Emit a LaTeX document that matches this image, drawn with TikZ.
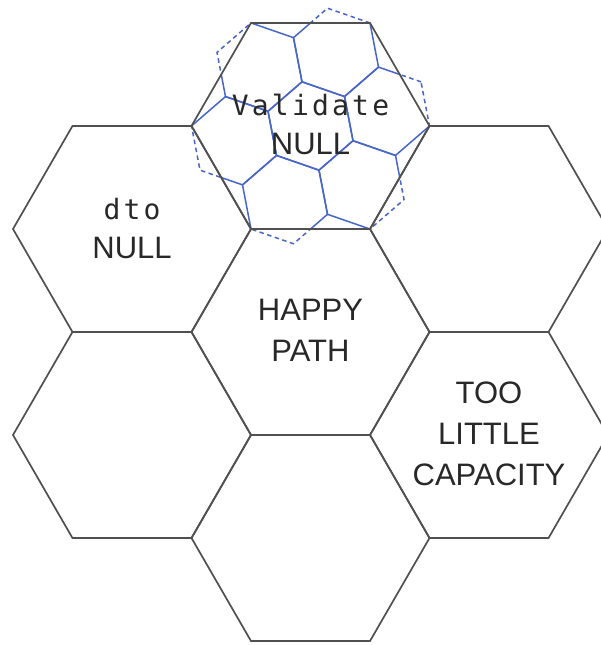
\documentclass[tikz,border=0pt]{standalone}
\usepackage{fontspec}
\setmainfont{Liberation Sans}
\newfontfamily\monof{DejaVu Sans Mono}
\newcommand\lk{\kern3.2pt}
\definecolor{hexgray}{RGB}{80,80,80}
\definecolor{txtgray}{RGB}{40,40,40}
\definecolor{flowblue}{RGB}{72,102,200}
\def\hr{119}
\def\fr{44.98}
\newcommand\bighex[2]{\path[#1, shift={(#2)}] (0:\hr) -- (60:\hr) -- (120:\hr) -- (180:\hr) -- (240:\hr) -- (300:\hr) -- cycle;}
\newcommand\smallcell[2]{\path[#1, shift={(#2)}] (40.893:\fr) -- (100.893:\fr) -- (160.893:\fr) -- (220.893:\fr) -- (280.893:\fr) -- (340.893:\fr) -- cycle;}
\tikzset{
  hexline/.style={draw=hexgray, line width=1.7pt, line join=miter},
  flowsolid/.style={draw=flowblue, line width=1.5pt},
  flowdash/.style={draw=flowblue, line width=1.5pt, dash pattern=on 4.5pt off 3.5pt},
  lbl/.style={text=txtgray, align=center, inner sep=0pt, font=\fontsize{31}{41}\selectfont},
  lblmix/.style={lbl, font=\fontsize{31}{39.5}\selectfont},
}
\begin{document}
\begin{tikzpicture}[x=1pt,y=1pt]
\clip (0,0) rectangle (601,645);
\fill[white] (0,0) rectangle (601,645);
\coordinate (v) at (310.5,519);
\coordinate (dto) at (132,416);
\coordinate (ru) at (489,416);
\coordinate (hp) at (310.5,313);
\coordinate (ll) at (132,210);
\coordinate (tl) at (489,210);
\coordinate (bt) at (310.5,107);
% dashed outer parts of the blue cells
\begin{scope}[shift={(v)}]
  \foreach \k in {0,...,5} {\smallcell{flowdash}{{70.893+60*\k}:77.905}}
\end{scope}
\bighex{fill=white}{v}
% solid blue cells inside the top hexagon
\begin{scope}
  \bighex{clip}{v}
  \begin{scope}[shift={(v)}]
    \smallcell{flowsolid}{0,0}
    \foreach \k in {0,...,5} {\smallcell{flowsolid}{{70.893+60*\k}:77.905}}
  \end{scope}
\end{scope}
% big hexagons
\bighex{hexline}{v}
\bighex{hexline}{dto}
\bighex{hexline}{ru}
\bighex{hexline}{hp}
\bighex{hexline}{ll}
\bighex{hexline}{tl}
\bighex{hexline}{bt}
% labels
\node[lblmix] (vtxt) at ([yshift=1.5pt]v) {{\monof\fontsize{28}{39.5}\selectfont V\lk a\lk l\lk i\lk d\lk a\lk t\lk e}\\NULL};
\node[lblmix] (dtotxt) at ([yshift=0.5pt]dto) {{\monof\fontsize{28}{39.5}\selectfont d\lk t\lk o}\\NULL};
\node[lbl] (hptxt) at ([yshift=1.5pt]hp) {HAPPY\\PATH};
\node[lbl] (tltxt) at ([yshift=1.5pt]tl) {TOO\\LITTLE\\CAPACITY};
\end{tikzpicture}
\end{document}
